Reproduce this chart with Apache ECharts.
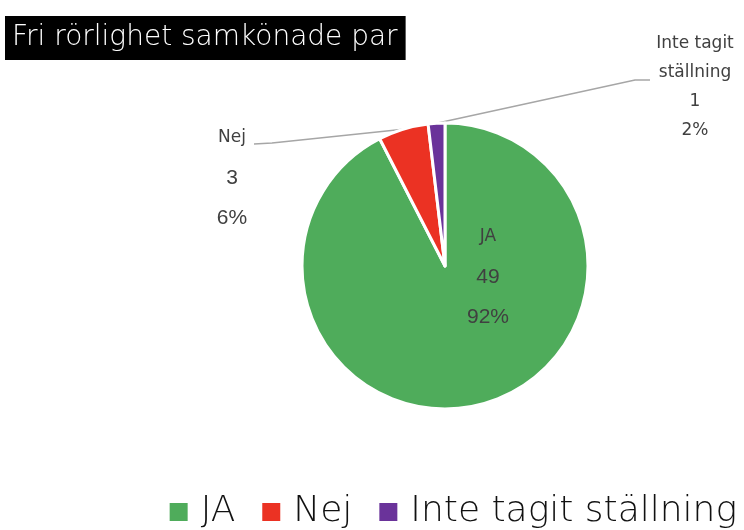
<!DOCTYPE html>
<html>
<head>
<meta charset="utf-8">
<script src="https://cdn.jsdelivr.net/npm/echarts@6/dist/echarts.min.js"></script>
<style>
  html, body { margin: 0; padding: 0; background: #fff; }
  #chart { width: 744px; height: 530px; }
</style>
</head>
<body>
<div id="chart"></div>
<script>
const categories = ['JA', 'Nej', 'Inte tagit ställning'];
const labelNames = ['JA', 'Nej', 'Inte tagit\nställning'];
const counts = [49, 3, 1];
const colors = ['#4fac5b', '#eb3223', '#6a339a'];

const total = counts.reduce((a, b) => a + b, 0);
const chart = echarts.init(document.getElementById('chart'));

// where each label sits (text centre) and where its leader line bends
const labelSpots = [
  { x: 488, y: 277 },
  { x: 232, y: 178, elbow: [272, 143], end: [254, 144] },
  { x: 695, y: 87, elbow: [635, 80], end: [650, 80] }
];

const data = categories.map((name, i) => ({
  name: name,
  value: counts[i],
  itemStyle: { color: colors[i] },
  label: i === 2
    ? { rich: { s: { fontSize: 17, lineHeight: 29, color: '#404040', fontFamily: 'DejaVu Sans' } } }
    : { rich: {
        n: { fontSize: 17, lineHeight: 40, color: '#404040', fontFamily: 'DejaVu Sans' },
        v: { fontSize: 21, lineHeight: 40, color: '#404040', fontFamily: 'Liberation Sans' }
      } },
  labelLine: { show: i !== 0 }
}));

chart.setOption({
  animation: false,
  title: {
    text: 'Fri rörlighet samkönade par',
    left: 5,
    top: 16,
    backgroundColor: '#000',
    padding: [8, 8, 8, 7],
    textStyle: { color: '#fff', fontSize: 28, fontWeight: 200, fontFamily: 'DejaVu Sans' }
  },
  legend: {
    data: categories,
    bottom: -5,
    right: 2,
    itemWidth: 20,
    itemHeight: 20,
    itemGap: 25,
    icon: 'rect',
    textStyle: { fontSize: 36, color: '#111', fontWeight: 200, fontFamily: 'DejaVu Sans', padding: [0, 0, 0, 7] }
  },
  series: [{
    type: 'pie',
    center: [445, 266],
    radius: 143,
    startAngle: 90,
    clockwise: true,
    itemStyle: { borderColor: '#fff', borderWidth: 3 },
    label: {
      show: true,
      align: 'center',
      formatter: p => {
        const pct = Math.round(p.value / total * 100) + '%';
        if (p.dataIndex === 2) {
          return '{s|' + labelNames[2].split('\n').join('}\n{s|') + '}\n{s|' + p.value + '}\n{s|' + pct + '}';
        }
        return '{n|' + labelNames[p.dataIndex] + '}\n{v|' + p.value + '}\n{v|' + pct + '}';
      }
    },
    labelLine: { lineStyle: { color: '#a6a6a6', width: 1.5 }, length: 20, length2: 20 },
    labelLayout: params => {
      const spot = labelSpots[params.dataIndex];
      const out = { x: spot.x, y: spot.y, align: 'center', verticalAlign: 'middle' };
      if (spot.elbow && params.labelLinePoints) {
        out.labelLinePoints = [params.labelLinePoints[0], spot.elbow, spot.end];
      }
      return out;
    },
    data: data
  }]
});
</script>
</body>
</html>
